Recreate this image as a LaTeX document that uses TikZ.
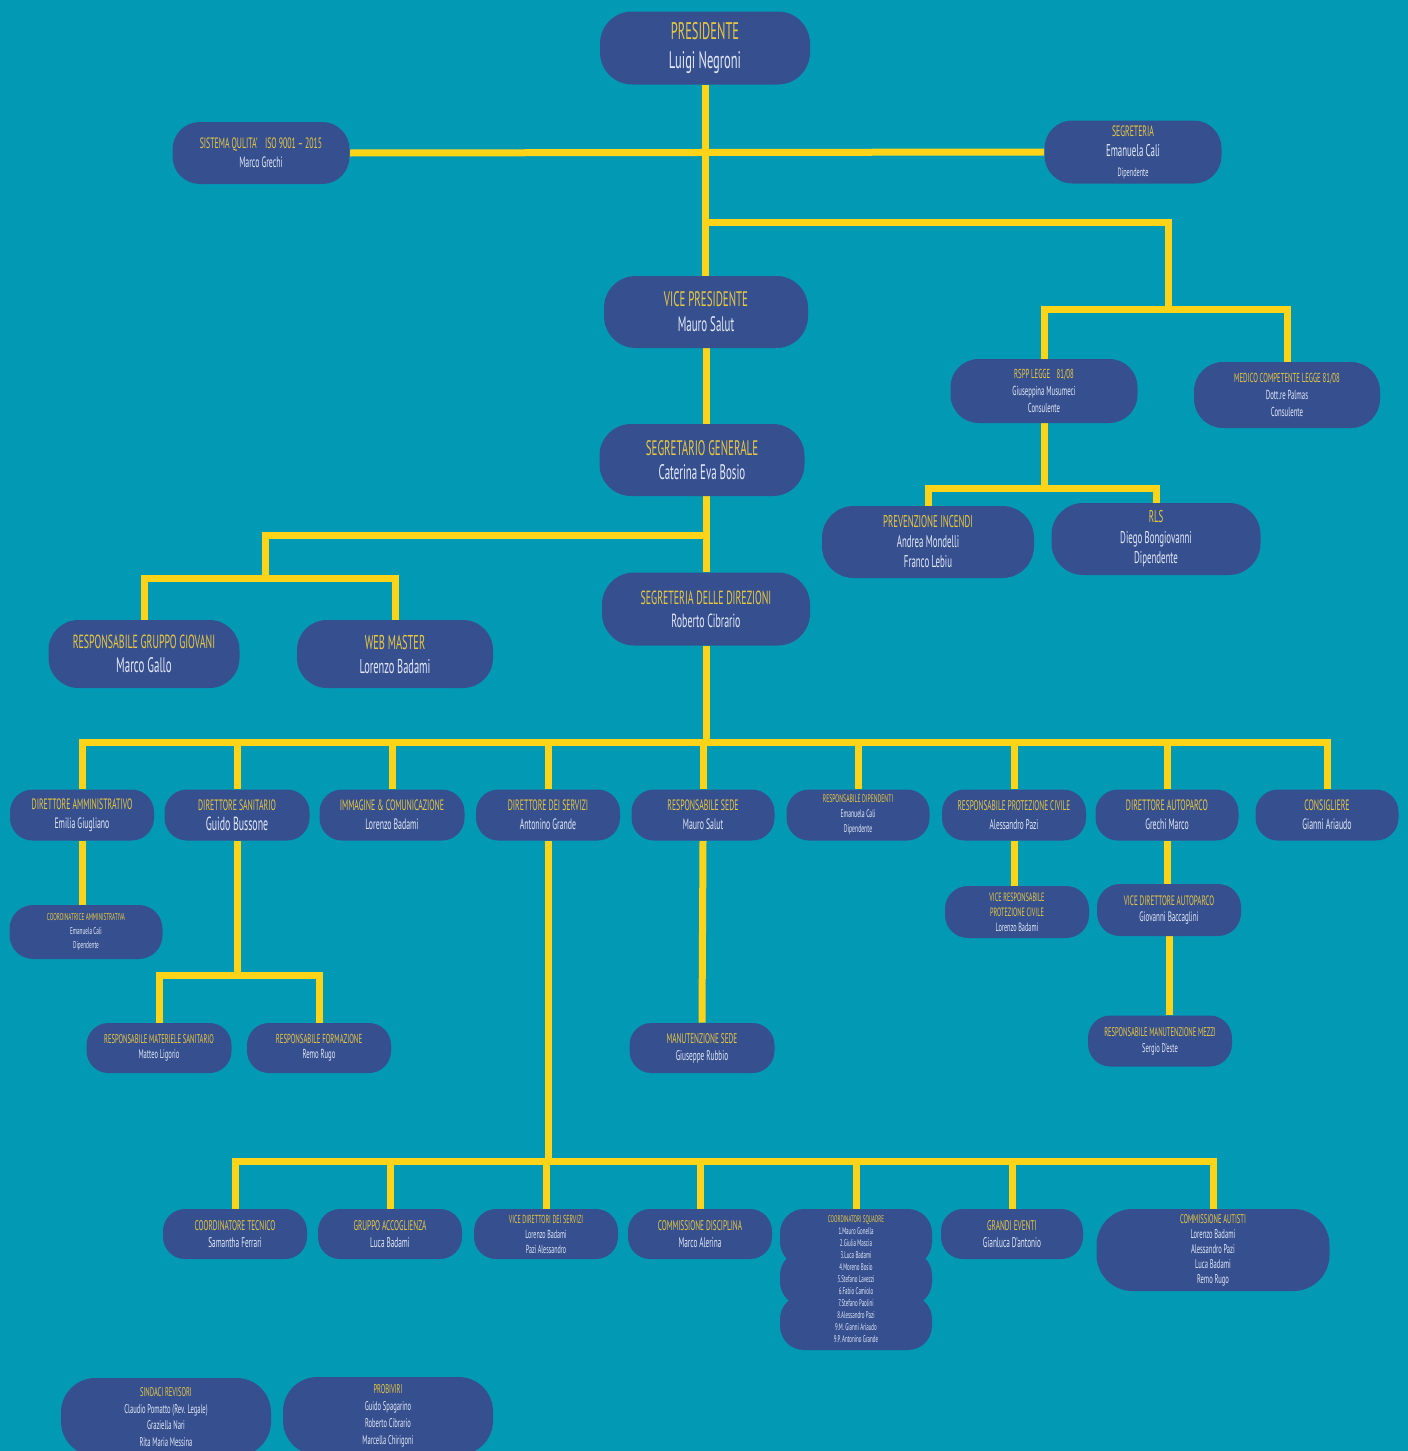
\documentclass[tikz,border=0pt]{standalone}
\usepackage{fontspec}
\setmainfont{PT Sans}[FakeStretch=0.52]
\usetikzlibrary{backgrounds}
\definecolor{bgteal}{HTML}{0299B5}
\definecolor{nodeblue}{HTML}{36508F}
\definecolor{lineyellow}{HTML}{FFD418}
\definecolor{titleyellow}{HTML}{E9C840}
\definecolor{nametext}{HTML}{E4E8F6}
\newcommand\ttl[1]{\textcolor{titleyellow}{#1}}
\tikzset{
  box/.style={fill=nodeblue, text=nametext, align=center, inner sep=0pt},
  sz/.style 2 args={minimum width=#1*0.5pt, minimum height=#2*0.5pt, rounded corners=#2*0.22pt},
  fs/.style 2 args={font=\fontsize{#1}{#2}\selectfont},
  link/.style={draw=lineyellow, line width=3.5pt},
}
\begin{document}
\begin{tikzpicture}[x=0.5pt,y=-0.5pt]
\useasboundingbox (0,0) rectangle (1408,1451);
\clip (0,0) rectangle (1408,1451);
\begin{scope}[on background layer]
\fill[bgteal] (0,0) rectangle (1408,1451);
\end{scope}

% top
\node[box, sz={210}{73}, fs={12}{14.5}] (pres) at (705,48) {\ttl{PRESIDENTE}\\Luigi Negroni};
\node[box, sz={177}{62}, fs={7.5}{9.5}] (sist) at (261,153) {\ttl{SISTEMA QULITA'\enspace ISO 9001 -- 2015}\\Marco Grechi};
\node[box, sz={177}{63}, fs={7.5}{10}] (segr) at (1133,152) {\ttl{SEGRETERIA}\\{\fontsize{8.5}{10}\selectfont Emanuela Cali}\\{\fontsize{6}{10}\selectfont Dipendente}};
\node[box, sz={204}{72}, fs={10.5}{12.5}] (vp) at (706,312) {\ttl{VICE PRESIDENTE}\\Mauro Salut};
\node[box, sz={205}{72}, fs={10.5}{12}] (sg) at (702,460) {\ttl{SEGRETARIO GENERALE}\\Caterina Eva Bosio};
\node[box, sz={187}{64}, fs={6.5}{8.3}] (rspp) at (1044,391) {\ttl{RSPP LEGGE\enspace 81/08}\\Giuseppina Musumeci\\Consulente};
\node[box, sz={186}{66}, fs={6.5}{8.3}] (med) at (1287,395) {\ttl{MEDICO COMPETENTE LEGGE 81/08}\\Dott.re Palmas\\Consulente};
\node[box, sz={212}{72}, fs={8.5}{10}] (prev) at (928,542) {\ttl{PREVENZIONE INCENDI}\\Andrea Mondelli\\Franco Lebiu};
\node[box, sz={209}{72}, fs={8.5}{10.3}] (rls) at (1156,539) {\ttl{RLS}\\Diego Bongiovanni\\Dipendente};
\node[box, sz={208}{73}, fs={9.5}{11.5}] (sdir) at (706,609) {\ttl{SEGRETERIA DELLE DIREZIONI}\\Roberto Cibrario};
\node[box, sz={191}{68}, fs={9.5}{12}] (gg) at (144,654) {\ttl{RESPONSABILE GRUPPO GIOVANI}\\{\fontsize{10.5}{12}\selectfont Marco Gallo}};
\node[box, sz={196}{68}, fs={10}{12}] (wm) at (395,654) {\ttl{WEB MASTER}\\Lorenzo Badami};

% row of nine
\node[box, sz={144}{51}, fs={7.5}{9.5}] (da) at (82,815) {\ttl{DIRETTORE AMMINISTRATIVO}\\Emilia Giugliano};
\node[box, sz={145}{51}, fs={7.5}{10}] (ds) at (237,815) {\ttl{DIRETTORE SANITARIO}\\{\fontsize{9.5}{10}\selectfont Guido Bussone}};
\node[box, sz={145}{51}, fs={7.5}{9.5}] (im) at (392,815) {\ttl{IMMAGINE \& COMUNICAZIONE}\\Lorenzo Badami};
\node[box, sz={144}{51}, fs={7.5}{9.5}] (dsv) at (548,815) {\ttl{DIRETTORE DEI SERVIZI}\\Antonino Grande};
\node[box, sz={143}{51}, fs={7.5}{9.5}] (rs) at (703,815) {\ttl{RESPONSABILE SEDE}\\Mauro Salut};
\node[box, sz={143}{51}, fs={5.5}{7.5}] (rd) at (858,815) {\ttl{RESPONSABILE DIPENDENTI}\\Emanuela Cali\\Dipendente};
\node[box, sz={144}{51}, fs={7}{9.5}] (pc) at (1014,815) {\ttl{RESPONSABILE PROTEZIONE CIVILE}\\Alessandro Pazi};
\node[box, sz={143}{51}, fs={7.5}{9.5}] (ap) at (1167,815) {\ttl{DIRETTORE AUTOPARCO}\\Grechi Marco};
\node[box, sz={143}{51}, fs={7.5}{9.5}] (co) at (1327,815) {\ttl{CONSIGLIERE}\\Gianni Ariaudo};

% second level
\node[box, sz={153}{54}, fs={5}{6.8}] (ca) at (86,932) {\ttl{COORDINATRICE AMMINISTRATIVA}\\Emanuela Cali\\Dipendente};
\node[box, sz={145}{50}, fs={6.3}{7.5}] (rm) at (159,1048) {\ttl{RESPONSABILE MATERIELE SANITARIO}\\Matteo Ligorio};
\node[box, sz={144}{50}, fs={6.5}{7.5}] (rf) at (319,1048) {\ttl{RESPONSABILE FORMAZIONE}\\Remo Rugo};
\node[box, sz={145}{50}, fs={7}{8.5}] (ms) at (702,1048) {\ttl{MANUTENZIONE SEDE}\\Giuseppe Rubbio};
\node[box, sz={144}{52}, fs={6}{7.5}] (vpc) at (1017,912) {\ttl{VICE RESPONSABILE}\\\ttl{PROTEZIONE CIVILE}\\Lorenzo Badami};
\node[box, sz={144}{52}, fs={6.8}{8}] (vap) at (1169,910) {\ttl{VICE DIRETTORE AUTOPARCO}\\Giovanni Baccaglini};
\node[box, sz={144}{51}, fs={6.3}{8}] (rmm) at (1160,1041) {\ttl{RESPONSABILE MANUTENZIONE MEZZI}\\Sergio D'este};

% bottom row
\node[box, sz={144}{50}, fs={7}{8.5}] (ct) at (235,1234) {\ttl{COORDINATORE TECNICO}\\Samantha Ferrari};
\node[box, sz={144}{50}, fs={7}{8.5}] (ga) at (390,1234) {\ttl{GRUPPO ACCOGLIENZA}\\Luca Badami};
\node[box, sz={144}{50}, fs={5.8}{7.5}] (vds) at (546,1234) {\ttl{VICE DIRETTORI DEI SERVIZI}\\Lorenzo Badami\\Pazi Alessandro};
\node[box, sz={144}{50}, fs={7}{8.5}] (cd) at (700,1234) {\ttl{COMMISSIONE DISCIPLINA}\\Marco Alerina};
\fill[nodeblue, rounded corners=12pt] (780,1209) rectangle (932,1266);
\fill[nodeblue, rounded corners=12pt] (780,1251) rectangle (932,1306);
\fill[nodeblue, rounded corners=12pt] (780,1295) rectangle (932,1350);
\node[text=nametext, align=center, inner sep=0pt, minimum width=76pt, minimum height=70.5pt, fs={4.8}{6}] (cs) at (856,1279.5) {\ttl{COORDINATORI SQUADRE}\\1.Mauro Gonella\\2.Giulia Mascia\\3.Luca Badami\\4.Moreno Bosio\\5.Stefano Lavezzi\\6.Fabio Camiolo\\7.Stefano Paolini\\8.Alessandro Pazi\\9.M. Gianni Ariaudo\\9.P. Antonino Grande};
\node[box, sz={142}{50}, fs={7}{8.5}] (ge) at (1012,1234) {\ttl{GRANDI EVENTI}\\Gianluca D'antonio};
\node[box, sz={233}{82}, fs={6.3}{7.5}] (cau) at (1213,1250) {\ttl{COMMISSIONE AUTISTI}\\Lorenzo Badami\\Alessandro Pazi\\Luca Badami\\Remo Rugo};

% very bottom
\node[box, sz={210}{78}, fs={6.3}{8.2}] (sr) at (166,1417) {\ttl{SINDACI REVISORI}\\Claudio Pomatto (Rev. Legale)\\Graziella Nari\\Rita Maria Messina};
\node[box, sz={210}{78}, fs={6.3}{8.4}] (pb) at (388,1416) {\ttl{PROBIVIRI}\\Guido Spagarino\\Roberto Cibrario\\Marcella Chirigoni};

% connectors
\begin{scope}[on background layer]
\coordinate (j1) at (707,222);
\coordinate (j2) at (1168,309);
\coordinate (j3) at (0,488);
\coordinate (j4) at (265,535);
\coordinate (j5) at (265,578);
\coordinate (bus1) at (0,742);
\coordinate (bus2) at (0,975);
\coordinate (bus3) at (0,1161);
\draw[link] (pres.south) -- (pres.south |- vp.north);
\draw[link] (sist.east) -- (segr.west);
\draw[link] (j1) -| (j2);
\draw[link] (rspp.north) |- (med.north |- j2) -- (med.north);
\draw[link] (rspp.south) -- (rspp.south |- j3);
\draw[link] (prev.north) |- (rls.north |- j3) -- (rls.north);
\draw[link] (vp.south) -- (vp.south |- sg.north);
\draw[link] (sdir.north |- sg.south) -- (sdir.north);
\draw[link] (sdir.north |- j4) -- (j4) -- (j5);
\draw[link] (gg.north) |- (wm.north |- j5) -- (wm.north);
\draw[link] (sdir.south) -- (sdir.south |- bus1);
\draw[link] (da.north) |- (co.north |- bus1) -- (co.north);
\foreach \n in {ds,im,dsv,rs,rd,pc,ap} \draw[link] (\n.north) -- (\n.north |- bus1);
\draw[link] (da.south) -- (da.south |- ca.north);
\draw[link] (ds.south) -- (ds.south |- bus2);
\draw[link] (rm.north) |- (rf.north |- bus2) -- (rf.north);
\draw[link] (dsv.south) -- (dsv.south |- bus3);
\draw[link] (ct.north) |- (cau.north |- bus3) -- (cau.north);
\foreach \n in {ga,vds,cd,cs,ge} \draw[link] (\n.north) -- (\n.north |- bus3);
\draw[link] (rs.south) -- (ms.north);
\draw[link] (pc.south) -- (pc.south |- vpc.north);
\draw[link] (ap.south) -- (ap.south |- vap.north);
\draw[link] (vap.south) -- (vap.south |- rmm.north);
\end{scope}
\end{tikzpicture}
\end{document}
